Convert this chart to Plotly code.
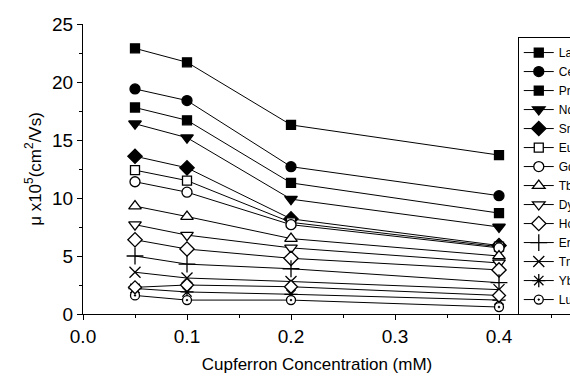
import plotly.graph_objects as go

conc = [0.05, 0.1, 0.2, 0.4]

names = ["La", "Ce", "Pr", "Nd", "Sm", "Eu", "Gd", "Tb", "Dy", "Ho", "Er", "Tm", "Yb", "Lu"]
La = [22.9, 21.7, 16.3, 13.7]
Ce = [19.4, 18.4, 12.7, 10.2]
Pr = [17.8, 16.7, 11.3, 8.7]
Nd = [16.4, 15.2, 9.9, 7.5]
Sm = [13.6, 12.6, 8.2, 5.9]
Eu = [12.4, 11.5, 7.9, 5.8]
Gd = [11.4, 10.5, 7.7, 5.7]
Tb = [9.3, 8.4, 6.5, 5.0]
Dy = [7.7, 6.8, 5.7, 4.4]
Ho = [6.4, 5.6, 4.8, 3.8]
Er = [5.0, 4.3, 3.9, 2.7]
Tm = [3.6, 3.1, 2.8, 2.1]
Yb = [2.2, 1.9, 1.7, 1.2]
Lu = [1.6, 1.2, 1.2, 0.6]
extra = [2.3, 2.5, 2.35, 1.6]

series = [La, Ce, Pr, Nd, Sm, Eu, Gd, Tb, Dy, Ho, Er, Tm, Yb, Lu]
symbols = ["square", "circle", "square", "triangle-down", "diamond",
           "square", "circle", "triangle-up", "triangle-down",
           "diamond", "cross-thin", "x-thin", "asterisk", "circle-dot"]
fills = ["black", "black", "black", "black", "black",
         "white", "white", "white", "white", "white",
         "black", "black", "black", "white"]
sizes = [9, 10, 9, 11, 11, 9, 10, 11, 11, 11, 12, 11, 11, 9]

fig = go.Figure()
for nm, ys, sym, fc, sz in zip(names, series, symbols, fills, sizes):
    fig.add_trace(go.Scatter(
        x=conc, y=ys, name=nm, mode="lines+markers",
        line=dict(color="black", width=1),
        marker=dict(symbol=sym, size=sz, color=fc,
                    line=dict(color="black", width=1.3)),
    ))
fig.add_trace(go.Scatter(
    x=conc, y=extra, mode="lines+markers", showlegend=False,
    line=dict(color="black", width=1),
    marker=dict(symbol="diamond", size=10, color="white",
                line=dict(color="black", width=1.3)),
))

font = dict(family="Liberation Sans, Arial, sans-serif", color="black")
fig.update_layout(
    width=570, height=382,
    margin=dict(l=83, r=19, t=24, b=68, autoexpand=False),
    paper_bgcolor="white", plot_bgcolor="white",
    font=font,
    showlegend=True,
    legend=dict(x=0.929, y=0.955, xanchor="left", yanchor="top",
                bgcolor="white", bordercolor="black", borderwidth=1,
                font=dict(size=12, family="Liberation Sans, Arial, sans-serif"),
                tracegroupgap=0, itemwidth=30),
    xaxis=dict(range=[0, 0.45], tickvals=[0.0, 0.1, 0.2, 0.3, 0.4],
               ticktext=["0.0", "0.1", "0.2", "0.3", "0.4"],
               showline=True, linecolor="black", linewidth=1,
               ticks="outside", ticklen=5, tickcolor="black",
               minor=dict(dtick=0.05, tick0=0, ticks="outside", ticklen=3, tickcolor="black"),
               showgrid=False, zeroline=False,
               tickfont=dict(size=19),
               title=dict(text="Cupferron Concentration (mM)", font=dict(size=17), standoff=12)),
    yaxis=dict(range=[0, 25], tickvals=[0, 5, 10, 15, 20, 25],
               showline=True, linecolor="black", linewidth=1,
               ticks="outside", ticklen=5, tickcolor="black",
               minor=dict(dtick=2.5, tick0=0, ticks="outside", ticklen=3, tickcolor="black"),
               showgrid=False, zeroline=False,
               tickfont=dict(size=19),
               title=dict(text="μ x10<sup>5</sup>(cm<sup>2</sup>/Vs)", font=dict(size=17), standoff=6)),
)

fig.write_html("out.html")
